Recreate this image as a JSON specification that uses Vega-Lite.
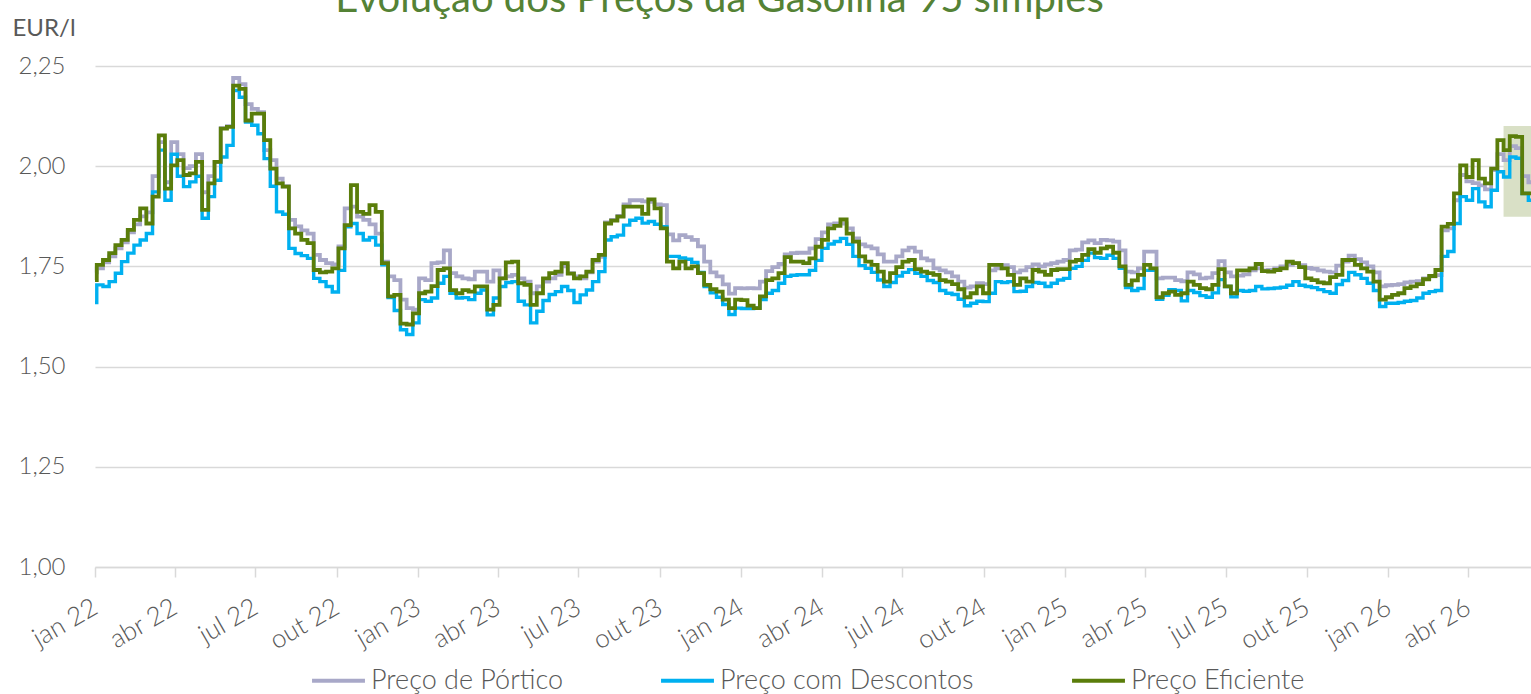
{
  "$schema": "https://vega.github.io/schema/vega-lite/v6.json",
  "width": 1436,
  "height": 501,
  "autosize": {"type": "none"},
  "padding": {"left": 95, "top": 66, "right": 0, "bottom": 127},
  "background": "white",
  "config": {
    "view": {"stroke": null},
    "font": "Lato",
    "axis": {"labelFontWeight": 300},
    "legend": {"labelFontWeight": 300}
  },
  "datasets": {
    "box": [{"d": "2026-05-11", "d1": "2026-06-11", "v": 1.874, "v2": 2.1}],
    "prices": [
      {"d":"2022-01-01","p":1.735,"c":1.66,"e":1.716},
      {"d":"2022-01-03","p":1.745,"c":1.704,"e":1.754},
      {"d":"2022-01-10","p":1.76,"c":1.70,"e":1.766},
      {"d":"2022-01-17","p":1.775,"c":1.712,"e":1.783},
      {"d":"2022-01-24","p":1.795,"c":1.733,"e":1.803},
      {"d":"2022-01-31","p":1.81,"c":1.762,"e":1.816},
      {"d":"2022-02-07","p":1.835,"c":1.783,"e":1.841},
      {"d":"2022-02-14","p":1.855,"c":1.803,"e":1.866},
      {"d":"2022-02-21","p":1.875,"c":1.816,"e":1.895},
      {"d":"2022-02-28","p":1.885,"c":1.832,"e":1.857},
      {"d":"2022-03-07","p":1.975,"c":1.936,"e":1.924},
      {"d":"2022-03-14","p":2.06,"c":2.04,"e":2.077},
      {"d":"2022-03-21","p":1.96,"c":1.915,"e":1.944},
      {"d":"2022-03-28","p":2.06,"c":2.03,"e":2.002},
      {"d":"2022-04-04","p":2.03,"c":1.975,"e":2.015},
      {"d":"2022-04-11","p":1.995,"c":1.949,"e":1.978},
      {"d":"2022-04-18","p":2.00,"c":1.961,"e":1.982},
      {"d":"2022-04-25","p":2.03,"c":1.975,"e":2.011},
      {"d":"2022-05-02","p":1.935,"c":1.870,"e":1.891},
      {"d":"2022-05-09","p":1.975,"c":1.924,"e":1.957},
      {"d":"2022-05-16","p":2.01,"c":1.965,"e":2.011},
      {"d":"2022-05-23","p":2.095,"c":2.023,"e":2.094},
      {"d":"2022-05-30","p":2.10,"c":2.052,"e":2.098},
      {"d":"2022-06-06","p":2.22,"c":2.189,"e":2.201},
      {"d":"2022-06-13","p":2.205,"c":2.172,"e":2.193},
      {"d":"2022-06-20","p":2.155,"c":2.11,"e":2.114},
      {"d":"2022-06-27","p":2.143,"c":2.102,"e":2.131},
      {"d":"2022-07-04","p":2.135,"c":2.081,"e":2.131},
      {"d":"2022-07-11","p":2.04,"c":2.019,"e":2.065},
      {"d":"2022-07-18","p":2.015,"c":1.95,"e":1.994},
      {"d":"2022-07-25","p":1.969,"c":1.886,"e":1.957},
      {"d":"2022-08-01","p":1.95,"c":1.88,"e":1.949},
      {"d":"2022-08-08","p":1.866,"c":1.795,"e":1.845},
      {"d":"2022-08-15","p":1.85,"c":1.782,"e":1.832},
      {"d":"2022-08-22","p":1.84,"c":1.777,"e":1.816},
      {"d":"2022-08-29","p":1.832,"c":1.77,"e":1.808},
      {"d":"2022-09-05","p":1.779,"c":1.72,"e":1.741},
      {"d":"2022-09-12","p":1.766,"c":1.712,"e":1.735},
      {"d":"2022-09-19","p":1.758,"c":1.70,"e":1.737},
      {"d":"2022-09-26","p":1.755,"c":1.686,"e":1.745},
      {"d":"2022-10-03","p":1.80,"c":1.74,"e":1.795},
      {"d":"2022-10-10","p":1.895,"c":1.849,"e":1.853},
      {"d":"2022-10-17","p":1.899,"c":1.857,"e":1.953},
      {"d":"2022-10-24","p":1.874,"c":1.832,"e":1.886},
      {"d":"2022-10-31","p":1.866,"c":1.816,"e":1.881},
      {"d":"2022-11-07","p":1.855,"c":1.822,"e":1.903},
      {"d":"2022-11-14","p":1.832,"c":1.803,"e":1.886},
      {"d":"2022-11-21","p":1.762,"c":1.754,"e":1.758},
      {"d":"2022-11-28","p":1.725,"c":1.672,"e":1.675},
      {"d":"2022-12-05","p":1.716,"c":1.64,"e":1.679},
      {"d":"2022-12-12","p":1.667,"c":1.592,"e":1.607},
      {"d":"2022-12-19","p":1.646,"c":1.58,"e":1.605},
      {"d":"2022-12-26","p":1.642,"c":1.609,"e":1.633},
      {"d":"2023-01-02","p":1.72,"c":1.667,"e":1.683},
      {"d":"2023-01-09","p":1.716,"c":1.663,"e":1.687},
      {"d":"2023-01-16","p":1.758,"c":1.671,"e":1.701},
      {"d":"2023-01-23","p":1.76,"c":1.708,"e":1.741},
      {"d":"2023-01-30","p":1.79,"c":1.725,"e":1.745},
      {"d":"2023-02-06","p":1.733,"c":1.683,"e":1.691},
      {"d":"2023-02-13","p":1.725,"c":1.671,"e":1.683},
      {"d":"2023-02-20","p":1.72,"c":1.672,"e":1.691},
      {"d":"2023-02-27","p":1.718,"c":1.667,"e":1.687},
      {"d":"2023-03-06","p":1.737,"c":1.683,"e":1.70},
      {"d":"2023-03-13","p":1.737,"c":1.691,"e":1.70},
      {"d":"2023-03-20","p":1.712,"c":1.629,"e":1.642},
      {"d":"2023-03-27","p":1.74,"c":1.671,"e":1.654},
      {"d":"2023-04-03","p":1.72,"c":1.70,"e":1.72},
      {"d":"2023-04-10","p":1.725,"c":1.71,"e":1.76},
      {"d":"2023-04-17","p":1.729,"c":1.712,"e":1.762},
      {"d":"2023-04-24","p":1.72,"c":1.663,"e":1.708},
      {"d":"2023-05-01","p":1.712,"c":1.654,"e":1.704},
      {"d":"2023-05-08","p":1.683,"c":1.609,"e":1.654},
      {"d":"2023-05-15","p":1.70,"c":1.638,"e":1.683},
      {"d":"2023-05-22","p":1.712,"c":1.665,"e":1.72},
      {"d":"2023-05-29","p":1.72,"c":1.68,"e":1.733},
      {"d":"2023-06-05","p":1.729,"c":1.687,"e":1.737},
      {"d":"2023-06-12","p":1.75,"c":1.70,"e":1.758},
      {"d":"2023-06-19","p":1.733,"c":1.69,"e":1.732},
      {"d":"2023-06-26","p":1.725,"c":1.66,"e":1.72},
      {"d":"2023-07-03","p":1.72,"c":1.679,"e":1.725},
      {"d":"2023-07-10","p":1.735,"c":1.691,"e":1.737},
      {"d":"2023-07-17","p":1.762,"c":1.712,"e":1.766},
      {"d":"2023-07-24","p":1.774,"c":1.737,"e":1.779},
      {"d":"2023-07-31","p":1.86,"c":1.816,"e":1.857},
      {"d":"2023-08-07","p":1.866,"c":1.824,"e":1.864},
      {"d":"2023-08-14","p":1.876,"c":1.828,"e":1.874},
      {"d":"2023-08-21","p":1.905,"c":1.853,"e":1.899},
      {"d":"2023-08-28","p":1.915,"c":1.865,"e":1.899},
      {"d":"2023-09-04","p":1.915,"c":1.87,"e":1.899},
      {"d":"2023-09-11","p":1.912,"c":1.858,"e":1.881},
      {"d":"2023-09-18","p":1.911,"c":1.862,"e":1.917},
      {"d":"2023-09-25","p":1.905,"c":1.855,"e":1.895},
      {"d":"2023-10-02","p":1.903,"c":1.849,"e":1.845},
      {"d":"2023-10-09","p":1.83,"c":1.775,"e":1.762},
      {"d":"2023-10-16","p":1.815,"c":1.775,"e":1.745},
      {"d":"2023-10-23","p":1.828,"c":1.771,"e":1.762},
      {"d":"2023-10-30","p":1.823,"c":1.768,"e":1.745},
      {"d":"2023-11-06","p":1.816,"c":1.76,"e":1.75},
      {"d":"2023-11-13","p":1.80,"c":1.735,"e":1.733},
      {"d":"2023-11-20","p":1.762,"c":1.70,"e":1.704},
      {"d":"2023-11-27","p":1.735,"c":1.684,"e":1.693},
      {"d":"2023-12-04","p":1.725,"c":1.673,"e":1.687},
      {"d":"2023-12-11","p":1.705,"c":1.655,"e":1.667},
      {"d":"2023-12-18","p":1.682,"c":1.63,"e":1.646},
      {"d":"2023-12-25","p":1.696,"c":1.646,"e":1.667},
      {"d":"2024-01-01","p":1.695,"c":1.645,"e":1.666},
      {"d":"2024-01-08","p":1.696,"c":1.645,"e":1.652},
      {"d":"2024-01-15","p":1.695,"c":1.646,"e":1.646},
      {"d":"2024-01-22","p":1.712,"c":1.667,"e":1.675},
      {"d":"2024-01-29","p":1.738,"c":1.683,"e":1.716},
      {"d":"2024-02-05","p":1.748,"c":1.69,"e":1.72},
      {"d":"2024-02-12","p":1.756,"c":1.708,"e":1.733},
      {"d":"2024-02-19","p":1.78,"c":1.725,"e":1.773},
      {"d":"2024-02-26","p":1.783,"c":1.728,"e":1.762},
      {"d":"2024-03-04","p":1.784,"c":1.729,"e":1.762},
      {"d":"2024-03-11","p":1.784,"c":1.729,"e":1.758},
      {"d":"2024-03-18","p":1.795,"c":1.74,"e":1.77},
      {"d":"2024-03-25","p":1.818,"c":1.765,"e":1.799},
      {"d":"2024-04-01","p":1.835,"c":1.795,"e":1.816},
      {"d":"2024-04-08","p":1.855,"c":1.806,"e":1.845},
      {"d":"2024-04-15","p":1.857,"c":1.812,"e":1.851},
      {"d":"2024-04-22","p":1.857,"c":1.82,"e":1.867},
      {"d":"2024-04-29","p":1.845,"c":1.805,"e":1.832},
      {"d":"2024-05-06","p":1.82,"c":1.775,"e":1.812},
      {"d":"2024-05-13","p":1.805,"c":1.752,"e":1.775},
      {"d":"2024-05-20","p":1.80,"c":1.745,"e":1.762},
      {"d":"2024-05-27","p":1.795,"c":1.735,"e":1.754},
      {"d":"2024-06-03","p":1.78,"c":1.716,"e":1.737},
      {"d":"2024-06-10","p":1.762,"c":1.70,"e":1.712},
      {"d":"2024-06-17","p":1.762,"c":1.71,"e":1.733},
      {"d":"2024-06-24","p":1.775,"c":1.726,"e":1.748},
      {"d":"2024-07-01","p":1.79,"c":1.735,"e":1.762},
      {"d":"2024-07-08","p":1.797,"c":1.742,"e":1.766},
      {"d":"2024-07-15","p":1.787,"c":1.733,"e":1.743},
      {"d":"2024-07-22","p":1.77,"c":1.725,"e":1.737},
      {"d":"2024-07-29","p":1.765,"c":1.715,"e":1.733},
      {"d":"2024-08-05","p":1.745,"c":1.71,"e":1.729},
      {"d":"2024-08-12","p":1.74,"c":1.69,"e":1.716},
      {"d":"2024-08-19","p":1.735,"c":1.683,"e":1.712},
      {"d":"2024-08-26","p":1.725,"c":1.68,"e":1.706},
      {"d":"2024-09-02","p":1.712,"c":1.668,"e":1.693},
      {"d":"2024-09-09","p":1.697,"c":1.652,"e":1.673},
      {"d":"2024-09-16","p":1.70,"c":1.658,"e":1.683},
      {"d":"2024-09-23","p":1.708,"c":1.663,"e":1.70},
      {"d":"2024-09-30","p":1.706,"c":1.662,"e":1.683},
      {"d":"2024-10-07","p":1.74,"c":1.683,"e":1.754},
      {"d":"2024-10-14","p":1.745,"c":1.712,"e":1.754},
      {"d":"2024-10-21","p":1.753,"c":1.71,"e":1.745},
      {"d":"2024-10-28","p":1.748,"c":1.712,"e":1.729},
      {"d":"2024-11-04","p":1.735,"c":1.687,"e":1.704},
      {"d":"2024-11-11","p":1.74,"c":1.688,"e":1.72},
      {"d":"2024-11-18","p":1.748,"c":1.70,"e":1.712},
      {"d":"2024-11-25","p":1.755,"c":1.71,"e":1.741},
      {"d":"2024-12-02","p":1.75,"c":1.708,"e":1.737},
      {"d":"2024-12-09","p":1.755,"c":1.70,"e":1.729},
      {"d":"2024-12-16","p":1.758,"c":1.708,"e":1.741},
      {"d":"2024-12-23","p":1.762,"c":1.716,"e":1.743},
      {"d":"2024-12-30","p":1.766,"c":1.72,"e":1.743},
      {"d":"2025-01-06","p":1.79,"c":1.745,"e":1.762},
      {"d":"2025-01-13","p":1.792,"c":1.75,"e":1.766},
      {"d":"2025-01-20","p":1.81,"c":1.765,"e":1.779},
      {"d":"2025-01-27","p":1.815,"c":1.783,"e":1.793},
      {"d":"2025-02-03","p":1.808,"c":1.772,"e":1.784},
      {"d":"2025-02-10","p":1.816,"c":1.77,"e":1.795},
      {"d":"2025-02-17","p":1.815,"c":1.778,"e":1.799},
      {"d":"2025-02-24","p":1.812,"c":1.77,"e":1.784},
      {"d":"2025-03-03","p":1.79,"c":1.745,"e":1.75},
      {"d":"2025-03-10","p":1.737,"c":1.697,"e":1.704},
      {"d":"2025-03-17","p":1.735,"c":1.69,"e":1.715},
      {"d":"2025-03-24","p":1.745,"c":1.695,"e":1.729},
      {"d":"2025-03-31","p":1.787,"c":1.74,"e":1.754},
      {"d":"2025-04-07","p":1.787,"c":1.74,"e":1.745},
      {"d":"2025-04-14","p":1.72,"c":1.668,"e":1.673},
      {"d":"2025-04-21","p":1.722,"c":1.678,"e":1.683},
      {"d":"2025-04-28","p":1.722,"c":1.692,"e":1.687},
      {"d":"2025-05-05","p":1.716,"c":1.69,"e":1.679},
      {"d":"2025-05-12","p":1.713,"c":1.664,"e":1.683},
      {"d":"2025-05-19","p":1.735,"c":1.69,"e":1.712},
      {"d":"2025-05-26","p":1.73,"c":1.685,"e":1.704},
      {"d":"2025-06-02","p":1.72,"c":1.677,"e":1.696},
      {"d":"2025-06-09","p":1.722,"c":1.673,"e":1.693},
      {"d":"2025-06-16","p":1.733,"c":1.684,"e":1.704},
      {"d":"2025-06-23","p":1.763,"c":1.717,"e":1.743},
      {"d":"2025-06-30","p":1.735,"c":1.70,"e":1.70},
      {"d":"2025-07-07","p":1.725,"c":1.674,"e":1.683},
      {"d":"2025-07-14","p":1.727,"c":1.69,"e":1.74},
      {"d":"2025-07-21","p":1.73,"c":1.688,"e":1.74},
      {"d":"2025-07-28","p":1.74,"c":1.69,"e":1.745},
      {"d":"2025-08-04","p":1.745,"c":1.70,"e":1.756},
      {"d":"2025-08-11","p":1.74,"c":1.694,"e":1.738},
      {"d":"2025-08-18","p":1.741,"c":1.695,"e":1.737},
      {"d":"2025-08-25","p":1.745,"c":1.696,"e":1.741},
      {"d":"2025-09-01","p":1.75,"c":1.698,"e":1.745},
      {"d":"2025-09-08","p":1.754,"c":1.703,"e":1.762},
      {"d":"2025-09-15","p":1.758,"c":1.712,"e":1.758},
      {"d":"2025-09-22","p":1.753,"c":1.703,"e":1.748},
      {"d":"2025-09-29","p":1.746,"c":1.70,"e":1.72},
      {"d":"2025-10-06","p":1.744,"c":1.697,"e":1.716},
      {"d":"2025-10-13","p":1.74,"c":1.692,"e":1.71},
      {"d":"2025-10-20","p":1.737,"c":1.687,"e":1.708},
      {"d":"2025-10-27","p":1.735,"c":1.683,"e":1.723},
      {"d":"2025-11-03","p":1.752,"c":1.705,"e":1.729},
      {"d":"2025-11-10","p":1.762,"c":1.715,"e":1.766},
      {"d":"2025-11-17","p":1.777,"c":1.735,"e":1.766},
      {"d":"2025-11-24","p":1.768,"c":1.729,"e":1.754},
      {"d":"2025-12-01","p":1.76,"c":1.72,"e":1.745},
      {"d":"2025-12-08","p":1.75,"c":1.708,"e":1.737},
      {"d":"2025-12-15","p":1.735,"c":1.69,"e":1.712},
      {"d":"2025-12-22","p":1.70,"c":1.65,"e":1.667},
      {"d":"2025-12-29","p":1.703,"c":1.658,"e":1.673},
      {"d":"2026-01-05","p":1.704,"c":1.658,"e":1.679},
      {"d":"2026-01-12","p":1.706,"c":1.66,"e":1.683},
      {"d":"2026-01-19","p":1.71,"c":1.663,"e":1.696},
      {"d":"2026-01-26","p":1.712,"c":1.665,"e":1.70},
      {"d":"2026-02-02","p":1.713,"c":1.671,"e":1.706},
      {"d":"2026-02-09","p":1.72,"c":1.683,"e":1.718},
      {"d":"2026-02-16","p":1.725,"c":1.687,"e":1.726},
      {"d":"2026-02-23","p":1.728,"c":1.69,"e":1.741},
      {"d":"2026-03-02","p":1.84,"c":1.775,"e":1.849},
      {"d":"2026-03-09","p":1.845,"c":1.787,"e":1.856},
      {"d":"2026-03-16","p":1.915,"c":1.857,"e":1.932},
      {"d":"2026-03-23","p":1.978,"c":1.924,"e":2.002},
      {"d":"2026-03-30","p":1.962,"c":1.915,"e":1.973},
      {"d":"2026-04-06","p":1.958,"c":1.944,"e":2.015},
      {"d":"2026-04-13","p":1.952,"c":1.911,"e":1.969},
      {"d":"2026-04-20","p":1.942,"c":1.899,"e":1.957},
      {"d":"2026-04-27","p":1.99,"c":1.94,"e":1.994},
      {"d":"2026-05-04","p":2.03,"c":1.986,"e":2.065},
      {"d":"2026-05-11","p":2.015,"c":1.973,"e":2.04},
      {"d":"2026-05-18","p":2.05,"c":2.023,"e":2.075},
      {"d":"2026-05-25","p":2.045,"c":2.02,"e":2.073},
      {"d":"2026-06-01","p":1.975,"c":1.932,"e":1.932},
      {"d":"2026-06-08","p":1.96,"c":1.915,"e":1.932},
      {"d":"2026-06-11","p":1.96,"c":1.915,"e":1.932}
    ]
  },
  "encoding": {
    "x": {
      "field": "d", "type": "temporal",
      "scale": {"type": "utc", "domain": [{"year": 2022, "month": 1, "date": 1, "utc": true}, {"year": 2026, "month": 6, "date": 11, "utc": true}]},
      "axis": {
        "title": "Evolução dos Preços da Gasolina 95 simples",
        "titleX": 624,
        "titleY": -556,
        "titleAlign": "center",
        "titleAnchor": "middle",
        "titleBaseline": "alphabetic",
        "titleFont": "Lato",
        "titleFontSize": 40,
        "titleFontWeight": "normal",
        "titleColor": "#548235",
        "tickCount": {"interval": "month", "step": 3},
        "labelExpr": "['jan','fev','mar','abr','mai','jun','jul','ago','set','out','nov','dez'][utcmonth(datum.value)] + ' ' + utcFormat(datum.value, '%y')",
        "labelAngle": -30,
        "labelAlign": "right",
        "labelBaseline": "middle",
        "labelFontSize": 26,
        "labelColor": "#595959",
        "labelPadding": 28,
        "labelOverlap": false,
        "labelFlush": false,
        "domainColor": "#d9d9d9",
        "domainWidth": 1.5,
        "tickColor": "#d9d9d9",
        "tickWidth": 1.5,
        "tickSize": 10,
        "grid": false
      }
    },
    "y": {
      "field": "v", "type": "quantitative",
      "scale": {"domain": [1, 2.25], "nice": false, "zero": false},
      "axis": {
        "title": "EUR/l",
        "titleAngle": 0,
        "titleX": -83,
        "titleY": -38,
        "titleAlign": "left",
        "titleBaseline": "middle",
        "titleFontSize": 24,
        "titleFontWeight": "normal",
        "titleColor": "#595959",
        "values": [1, 1.25, 1.5, 1.75, 2, 2.25],
        "labelExpr": "replace(format(datum.value, '.2f'), '.', ',')",
        "labelFontSize": 24,
        "labelColor": "#595959",
        "labelPadding": 30,
        "ticks": false,
        "domain": false,
        "gridColor": "#d9d9d9",
        "gridWidth": 1.5
      }
    }
  },
  "layer": [
    {
      "data": {"name": "box"},
      "mark": {"type": "rect", "color": "#d9e0c6"},
      "encoding": {
        "x2": {"field": "d1"},
        "y2": {"field": "v2"}
      }
    },
    {
      "data": {"name": "prices"},
      "transform": [{"fold": ["p", "c", "e"], "as": ["s", "v"]}],
      "encoding": {
        "color": {
          "field": "s", "type": "nominal",
          "scale": {"domain": ["p", "c", "e"], "range": ["#A8A8C8", "#00B0F0", "#5A7D0A"]},
          "legend": {
            "title": null,
            "orient": "none",
            "legendX": 215,
            "legendY": 586,
            "direction": "horizontal",
            "symbolType": "stroke",
            "symbolSize": 2800,
            "symbolStrokeWidth": 4,
            "labelFontSize": 27,
            "labelColor": "#595959",
            "labelOffset": 4,
            "labelLimit": 0,
            "columnPadding": 90,
            "padding": 0,
            "labelExpr": "{'p': 'Preço de Pórtico', 'c': 'Preço com Descontos', 'e': 'Preço Eficiente'}[datum.label]"
          }
        }
      },
      "layer": [
        {"transform": [{"filter": "datum.s === 'p'"}], "mark": {"type": "line", "interpolate": "step-after", "strokeWidth": 3.8}},
        {"transform": [{"filter": "datum.s === 'c'"}], "mark": {"type": "line", "interpolate": "step-after", "strokeWidth": 3.4}},
        {"transform": [{"filter": "datum.s === 'e'"}], "mark": {"type": "line", "interpolate": "step-after", "strokeWidth": 3.8}}
      ]
    }
  ]
}
